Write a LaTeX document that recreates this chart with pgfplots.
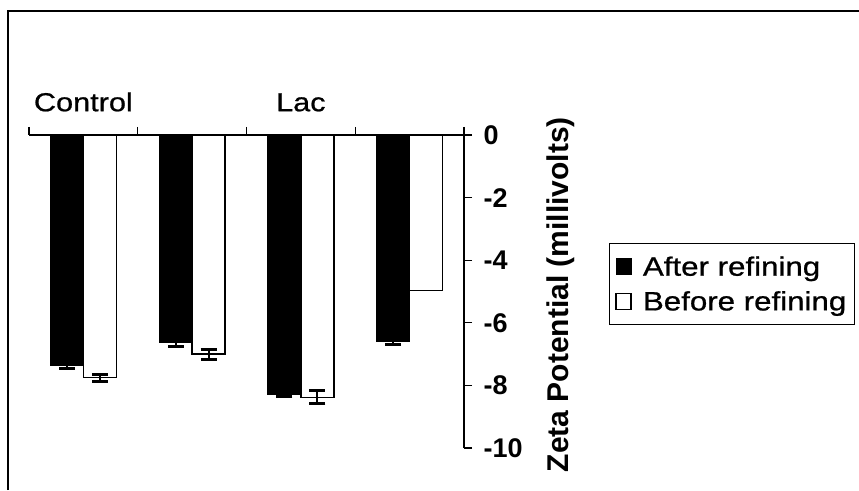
\documentclass[border=0pt]{standalone}
\usepackage{fontspec}
\setmainfont{Liberation Sans}
\newfontfamily\widesans{Liberation Sans}[FakeStretch=1.18, FakeBold=0.8]
\usepackage{pgfplots}
\pgfplotsset{compat=1.18}

\begin{document}
\begin{tikzpicture}
\path[use as bounding box] (0,0) rectangle (859pt,490pt);
% outer frame (only the left and top edges are visible)
\draw[line width=1.5pt] (8pt,0pt) -- (8pt,479pt) -- (859pt,479pt);

\begin{axis}[
    at={(29pt,42pt)}, anchor=south west,
    scale only axis, width=435pt, height=313pt,
    xmin=0.5, xmax=4.5, ymin=-10, ymax=0,
    axis x line*=top, axis y line*=right,
    axis line style={line width=1.2pt, black},
    ybar, bar width=33pt,
    xtick={1,2,3,4}, xticklabels={Control,,Lac,},
    major x tick style={draw=none},
    minor xtick={0.5,1.5,2.5,3.5,4.5},
    ytick={0,-2,-4,-6,-8,-10},
    tick align=outside, major tick length=8pt, minor tick length=8pt,
    tick style={line width=1.2pt, black},
    xticklabel style={font=\widesans\fontsize{26}{30}\selectfont, yshift=12pt},
    yticklabel style={font=\bfseries\fontsize{27}{31}\selectfont, xshift=8pt},
    /pgf/number format/assume math mode=true,
    every axis y label/.style={at={(axis description cs:1.222,0.49)}, rotate=90, anchor=center},
    ylabel={\bfseries\fontsize{30}{34}\selectfont Zeta Potential (millivolts)},
    legend style={at={(rel axis cs:1.333,0.655)}, anchor=north west,
        draw=black, line width=1pt, inner xsep=6pt, inner ysep=11pt,
        row sep=10pt, column sep=9pt,
        font=\widesans\fontsize{26.5}{30}\selectfont},
    legend cell align=left,
]
\addplot[fill=black, draw=black, line width=1.2pt, bar shift=-16.5pt,
    legend image code/.code={\draw[fill=black, line width=1pt] (0pt,-8pt) rectangle (15pt,8pt);},
    error bars/.cd, y dir=both, y explicit,
    error bar style={line width=2pt, black},
    error mark options={rotate=90, mark size=8pt, line width=3pt, black}]
coordinates {
    (1,-7.37) +- (0,0.085)
    (2,-6.63) +- (0,0.13)
    (3,-8.28) +- (0,0.08)
    (4,-6.58) +- (0,0.10)
};
\addlegendentry{After refining}

\addplot[fill=white, draw=black, line width=1.4pt, bar shift=16.5pt,
    legend image code/.code={\draw[fill=white, line width=1.6pt] (0pt,-8pt) rectangle (15pt,8pt);},
    error bars/.cd, y dir=both, y explicit,
    error bar style={line width=2pt, black},
    error mark options={rotate=90, mark size=8pt, line width=3pt, black}]
coordinates {
    (1,-7.75) +- (0,0.11)
    (2,-7.00) +- (0,0.16)
    (3,-8.38) +- (0,0.21)
};
\addlegendentry{Before refining}

\addplot[fill=white, draw=black, line width=1.4pt, bar shift=16.5pt, forget plot]
coordinates {(4,-4.97)};
\end{axis}
\end{tikzpicture}
\end{document}
